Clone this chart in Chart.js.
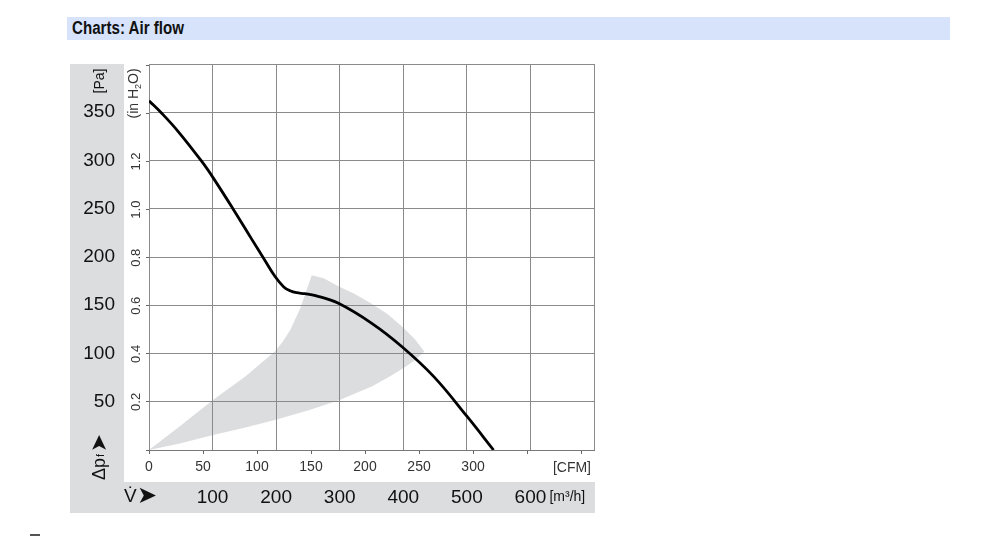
<!DOCTYPE html>
<html lang="en">
<head>
    <meta charset="UTF-8">
    <title>Charts: Air flow</title>
    <script src="https://cdn.jsdelivr.net/npm/chart.js"></script>
    <style>
        body { margin: 0; background: #fff; }
        #head {
            position: absolute; left: 67px; top: 17px; width: 883px; height: 23px;
            background: #d6e3fb; color: #111;
            font: bold 18px "Liberation Sans", Arial, sans-serif;
            line-height: 23px; padding-left: 5px; box-sizing: border-box;
        }
        #head span { display: inline-block; transform: scaleX(0.84); transform-origin: left center; }
        #dash { position: absolute; left: 30px; top: 534px; width: 10px; height: 2px; background: #555; }
        #wrap { position: absolute; left: 0; top: 0; width: 1000px; height: 538px; }
    </style>
</head>
<body>
    <div id="head"><span>Charts: Air flow</span></div>
    <div id="dash"></div>
    <div id="wrap"><canvas id="airChart" width="1000" height="538"></canvas></div>
    <script>
    // fan curve (m3/h, Pa)
    var flowM3h    = [0, 20, 46, 83, 101, 133, 162, 180, 198, 212, 222, 232, 245, 262, 298, 351, 398, 448, 500, 542];
    var pressurePa = [362, 349, 330, 299, 282, 249, 218, 199, 180, 169, 165, 163, 162, 160, 152, 131, 107, 76, 35, 0];

    // grey operating range, outline going round from the origin
    var rangeM3h = [0, 49, 101, 151, 198, 210, 222, 238, 247, 256, 275, 297, 323, 349, 375, 398, 418, 433, 418, 403, 378, 351, 301, 250, 198, 150, 101, 50, 0];
    var rangePa  = [0, 25, 52, 76, 102, 112, 124, 147, 164, 181, 178, 170, 162, 152, 141, 128, 115, 102, 93, 86, 76, 66, 52, 41, 31, 23, 15.5, 7, 0];

    // tick labels
    var paLabels = [50, 100, 150, 200, 250, 300, 350];
    var inh2oLabels = [0.2, 0.4, 0.6, 0.8, 1.0, 1.2];
    var cfmLabels = [0, 50, 100, 150, 200, 250, 300];
    var m3hLabels = [100, 200, 300, 400, 500, 600];

    var PA_PER_INH2O = 249.089;
    var M3H_PER_CFM = 1.69901;

    var sans = '"Liberation Sans", Arial, Helvetica, sans-serif';
    var gridColor = '#8a8a8a';
    var panelGrey = '#dcdddf';

    function toPts(xs, ys) {
        return xs.map(function (x, i) { return { x: x, y: ys[i] }; });
    }

    function rotText(ctx, text, x, y, font, align) {
        ctx.save();
        ctx.translate(x, y);
        ctx.rotate(-Math.PI / 2);
        ctx.font = font;
        ctx.textAlign = align || 'center';
        ctx.textBaseline = 'middle';
        ctx.fillText(text, 0, 0);
        ctx.restore();
    }

    var decor = {
        id: 'decor',
        beforeDraw: function (chart) {
            var ctx = chart.ctx, ca = chart.chartArea;
            var ys = chart.scales.y, xs = chart.scales.x;
            ctx.save();
            ctx.fillStyle = panelGrey;
            ctx.fillRect(ys.left, ca.top, ys.width + 1, xs.bottom - ca.top);
            ctx.fillRect(ys.left, xs.top, ca.right + 1 - ys.left, xs.height);
            ctx.restore();
        },
        afterDraw: function (chart) {
            var ctx = chart.ctx, ca = chart.chartArea;
            var ys = chart.scales.y, xs = chart.scales.x, hs = chart.scales.inh2o, cs = chart.scales.cfm;
            ctx.save();
            ctx.fillStyle = '#111';
            // [Pa]
            rotText(ctx, '[Pa]', ys.left + 30, ca.top + 17, '14px ' + sans);
            // delta p_f with arrow
            ctx.save();
            ctx.translate(ys.left + 30, ca.bottom + 30);
            ctx.rotate(-Math.PI / 2);
            ctx.textBaseline = 'middle';
            ctx.textAlign = 'left';
            ctx.font = '18px ' + sans;
            ctx.fillText('\u0394p', 0, 0);
            var w = ctx.measureText('\u0394p').width;
            ctx.font = '11px ' + sans;
            ctx.fillText('f', w + 1, 1);
            ctx.restore();
            // up arrow
            rotText(ctx, '\u27A4', ys.left + 30, ca.bottom - 7, '22px "DejaVu Sans"');

            // in H2O labels
            ctx.fillStyle = '#333';
            inh2oLabels.forEach(function (v) {
                rotText(ctx, v.toFixed(1), hs.left + 13, hs.getPixelForValue(v), '13px ' + sans);
            });
            ctx.save();
            ctx.translate(hs.left + 11, hs.getPixelForValue(1.4) + 5);
            ctx.rotate(-Math.PI / 2);
            ctx.textBaseline = 'middle';
            ctx.textAlign = 'left';
            ctx.font = '14px ' + sans;
            ctx.fillText('(in H', 0, 0);
            var w1 = ctx.measureText('(in H').width;
            ctx.font = '9px ' + sans;
            ctx.fillText('2', w1, 5);
            var w2 = ctx.measureText('2').width;
            ctx.font = '14px ' + sans;
            ctx.fillText('O)', w1 + w2, 0);
            ctx.restore();

            // unit labels along the bottom
            ctx.font = '14px ' + sans;
            ctx.textAlign = 'right';
            ctx.textBaseline = 'middle';
            ctx.fillText('[CFM]', ca.right - 3, cs.top + 18);

            ctx.fillStyle = '#111';
            ctx.textAlign = 'left';
            ctx.font = '14px ' + sans;
            ctx.fillText('[m\u00B3/h]', xs.getPixelForValue(600) + 19, xs.top + 15);
            ctx.font = '19px ' + sans;
            ctx.fillText('V\u0307', ys.right + 1, xs.top + 15);
            ctx.font = '24px "DejaVu Sans"';
            ctx.fillText('\u27A4', ys.right + 14, xs.top + 15);
            ctx.restore();
        }
    };

    var ctx = document.getElementById('airChart').getContext('2d');
    var airChart = new Chart(ctx, {
        type: 'line',
        data: {
            datasets: [{
                label: 'Air flow',
                data: toPts(flowM3h, pressurePa),
                borderColor: '#000',
                borderWidth: 2.8,
                pointRadius: 0,
                fill: false,
                tension: 0.4,
                xAxisID: 'x',
                yAxisID: 'y',
                order: 1
            }, {
                label: 'Range',
                data: toPts(rangeM3h, rangePa),
                borderWidth: 0,
                borderColor: 'rgba(0,0,0,0)',
                backgroundColor: panelGrey,
                pointRadius: 0,
                tension: 0,
                fill: 'shape',
                xAxisID: 'x',
                yAxisID: 'y',
                order: 2
            }]
        },
        options: {
            responsive: false,
            animation: false,
            layout: { padding: { left: 70, top: 64, right: 406, bottom: 25 } },
            plugins: {
                legend: { display: false },
                tooltip: { enabled: false },
                filler: { drawTime: 'beforeDraw' }
            },
            scales: {
                x: {
                    type: 'linear', position: 'bottom', weight: 1,
                    min: 0, max: 700,
                    ticks: {
                        stepSize: 100, autoSkip: false, maxRotation: 0, padding: 4,
                        color: '#111', font: { size: 19, family: sans },
                        callback: function (v) { return m3hLabels.indexOf(v) >= 0 ? String(v) : ''; }
                    },
                    grid: { color: gridColor, lineWidth: 1, drawTicks: false },
                    border: { display: false },
                    afterFit: function (s) { s.height = 31; }
                },
                cfm: {
                    type: 'linear', position: 'bottom', weight: 0,
                    min: 0, max: 700 / M3H_PER_CFM,
                    ticks: {
                        stepSize: 50, includeBounds: false, autoSkip: false, maxRotation: 0, padding: 5,
                        color: '#333', font: { size: 14, family: sans },
                        callback: function (v) { return cfmLabels.indexOf(v) >= 0 ? String(v) : ''; }
                    },
                    grid: { drawOnChartArea: false, drawTicks: true, tickLength: 4, color: '#666' },
                    border: { display: true, color: '#777' },
                    afterFit: function (s) { s.height = 32; }
                },
                y: {
                    type: 'linear', position: 'left', weight: 1,
                    min: 0, max: 400,
                    ticks: {
                        stepSize: 50, padding: 8,
                        color: '#111', font: { size: 19, family: sans },
                        callback: function (v) { return paLabels.indexOf(v) >= 0 ? String(v) : ''; }
                    },
                    grid: { color: gridColor, lineWidth: 1, drawTicks: false },
                    border: { display: false },
                    afterFit: function (s) { s.width = 53; }
                },
                inh2o: {
                    type: 'linear', position: 'left', weight: 0,
                    min: 0, max: 400 / PA_PER_INH2O,
                    ticks: { stepSize: 0.2, includeBounds: false, display: false },
                    grid: { drawOnChartArea: false, drawTicks: true, tickLength: 3, color: '#666' },
                    border: { display: false },
                    afterFit: function (s) { s.width = 26; }
                }
            }
        },
        plugins: [decor]
    });
    </script>
</body>
</html>
